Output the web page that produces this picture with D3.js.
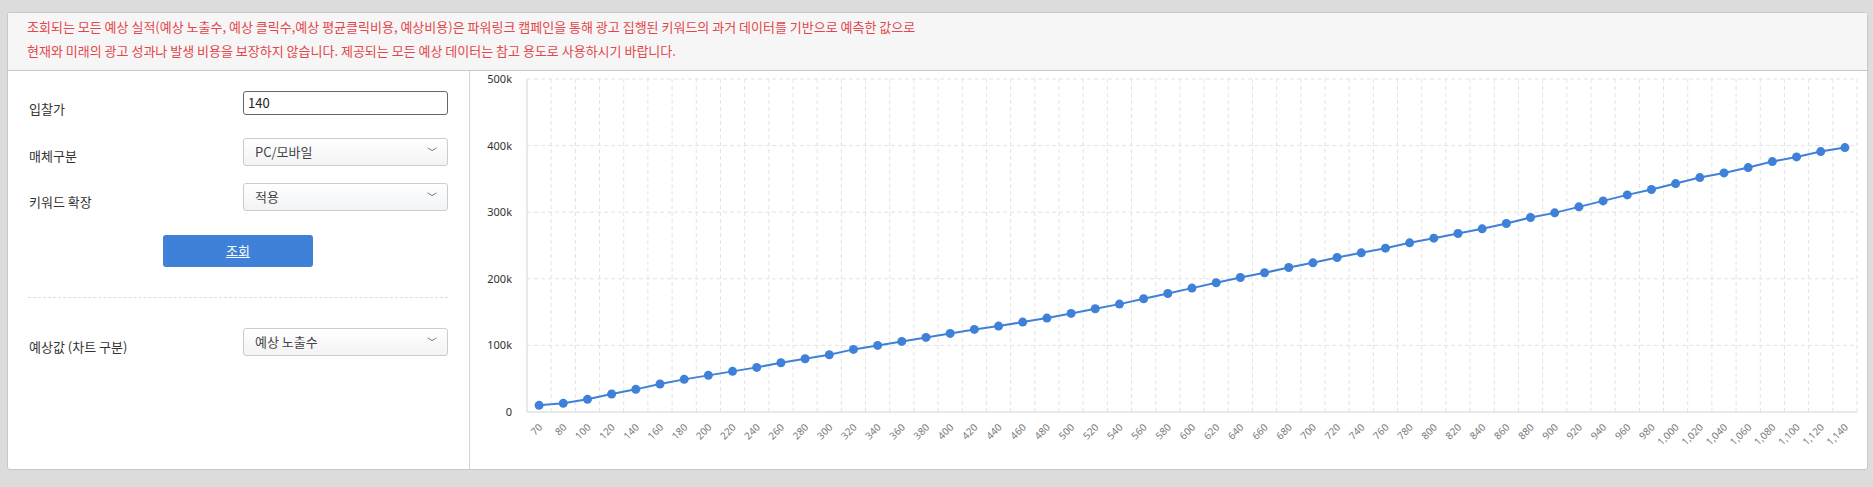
<!DOCTYPE html>
<html><head><meta charset="utf-8">
<script src="https://cdn.jsdelivr.net/npm/d3@7"></script>
<style>
body{margin:0;background:#dcdcdc;font-family:"Noto Sans CJK KR","Noto Sans",sans-serif;width:1873px;height:487px;overflow:hidden;position:relative}
.panel{position:absolute;left:7px;top:12px;width:1861px;height:458px;background:#fff;border:1px solid #c8c8c8;border-radius:3px;box-sizing:border-box}
.hdr{position:absolute;left:0;top:0;right:0;height:57px;background:#f6f6f6;border-bottom:1px solid #c8c8c8}
.hdr div{position:absolute;left:19px;color:#e2474b;font-size:13px;white-space:nowrap}
.div{position:absolute;left:461px;top:58px;bottom:0;border-left:1px solid #d5d5d5}
.lbl{position:absolute;left:21px;font-size:13px;color:#333}
.box{position:absolute;left:235px;width:205px;height:28px;border:1px solid #ccc;border-radius:3px;background:linear-gradient(#fff,#f2f3f5);box-sizing:border-box;font-size:13px;color:#444;padding-left:11px;line-height:26px}
.box.in{border:1px solid #666;background:#fff;height:24px;line-height:22px;padding-left:4px;color:#222}
.chev{position:absolute;right:10px;top:0;font-size:10px;color:#555}
.btn{position:absolute;left:155px;top:222px;width:150px;height:32px;background:#3f80d8;border-radius:3px;color:#fff;font-size:13px;text-align:center;line-height:32px;text-decoration:underline}
.dash{position:absolute;left:20px;top:284px;width:420px;border-top:1px dashed #ddd}
svg{position:absolute;left:0;top:0}
</style></head><body>
<div class="panel">
 <div class="hdr">
  <div style="top:4px">조회되는 모든 예상 실적(예상 노출수, 예상 클릭수,예상 평균클릭비용, 예상비용)은 파워링크 캠페인을 통해 광고 집행된 키워드의 과거 데이터를 기반으로 예측한 값으로</div>
  <div style="top:28px">현재와 미래의 광고 성과나 발생 비용을 보장하지 않습니다. 제공되는 모든 예상 데이터는 참고 용도로 사용하시기 바랍니다.</div>
 </div>
 <div class="div"></div>
 <div class="lbl" style="top:86px">입찰가</div>
 <div class="box in" style="top:78px">140</div>
 <div class="lbl" style="top:133px">매체구분</div>
 <div class="box" style="top:125px">PC/모바일<span class="chev">﹀</span></div>
 <div class="lbl" style="top:179px">키워드 확장</div>
 <div class="box" style="top:170px">적용<span class="chev">﹀</span></div>
 <div class="btn">조회</div>
 <div class="dash"></div>
 <div class="lbl" style="top:324px">예상값 (차트 구분)</div>
 <div class="box" style="top:315px">예상 노출수<span class="chev">﹀</span></div>
</div>
<svg id="c" width="1873" height="487"></svg>
<script>
const bids=[70,80,100,120,140,160,180,200,220,240,260,280,300,320,340,360,380,400,420,440,460,480,500,520,540,560,580,600,620,640,660,680,700,720,740,760,780,800,820,840,860,880,900,920,940,960,980,1000,1020,1040,1060,1080,1100,1120,1140];
const impressions=[10000,13000,19000,27000,34000,42000,49000,55000,61000,67000,74000,80000,86000,94000,100000,106000,112000,118000,124000,129000,135000,141000,148000,155000,162000,170000,178000,186000,194000,202000,209000,217000,224000,232000,239000,246000,254000,261000,268000,275000,283000,292000,299000,308000,317000,326000,334000,343000,352000,359000,367000,376000,383000,391000,397000];
const yTicks=[0,100000,200000,300000,400000,500000];
const L=527,R=1857,T=79,B=412;
const svg=d3.select("#c");
const x=d3.scalePoint().domain(bids).range([L,R]).padding(0.5);
const y=d3.scaleLinear().domain([0,500000]).range([B,T]);
const step=x.step();
const g=svg.append("g");
// vertical grid at band boundaries
const bounds=bids.map(b=>x(b)+step/2);
g.selectAll(".vg").data(bounds).join("line").attr("x1",d=>d).attr("x2",d=>d).attr("y1",T).attr("y2",B)
 .attr("stroke","#e3e3e3").attr("stroke-dasharray","4,3");
g.selectAll(".hg").data(yTicks.slice(1)).join("line").attr("x1",L).attr("x2",R).attr("y1",d=>y(d)).attr("y2",d=>y(d))
 .attr("stroke","#e3e3e3").attr("stroke-dasharray","4,3");
g.append("line").attr("x1",L).attr("x2",L).attr("y1",T).attr("y2",B).attr("stroke","#e2e2e2").attr("stroke-width",1.5);
g.append("line").attr("x1",L).attr("x2",R).attr("y1",B).attr("y2",B).attr("stroke","#e2e2e2").attr("stroke-width",1.5);
// y labels
const fy=d=>d===0?"0":(d/1000)+"k";
g.selectAll(".yl").data(yTicks).join("text").attr("x",512).attr("y",d=>y(d)+4).attr("text-anchor","end")
 .attr("font-size",11).attr("fill","#333").attr("font-family","Noto Sans,sans-serif").text(fy);
// x labels
g.selectAll(".xl").data(bids).join("text")
 .attr("transform",d=>`translate(${x(d)+4},${B+16}) rotate(-45)`).attr("text-anchor","end")
 .attr("font-size",10).attr("fill","#7a7a7a").attr("font-family","Noto Sans,sans-serif").text(d=>d3.format(",")(d));
// line
const line=d3.line().x((d,i)=>x(bids[i])).y(d=>y(d));
g.append("path").datum(impressions).attr("d",line).attr("fill","none").attr("stroke","#3f80d8").attr("stroke-width",2);
g.selectAll(".pt").data(impressions).join("circle").attr("cx",(d,i)=>x(bids[i])).attr("cy",d=>y(d)).attr("r",4.5).attr("fill","#3f80d8");
</script>
</body></html>
